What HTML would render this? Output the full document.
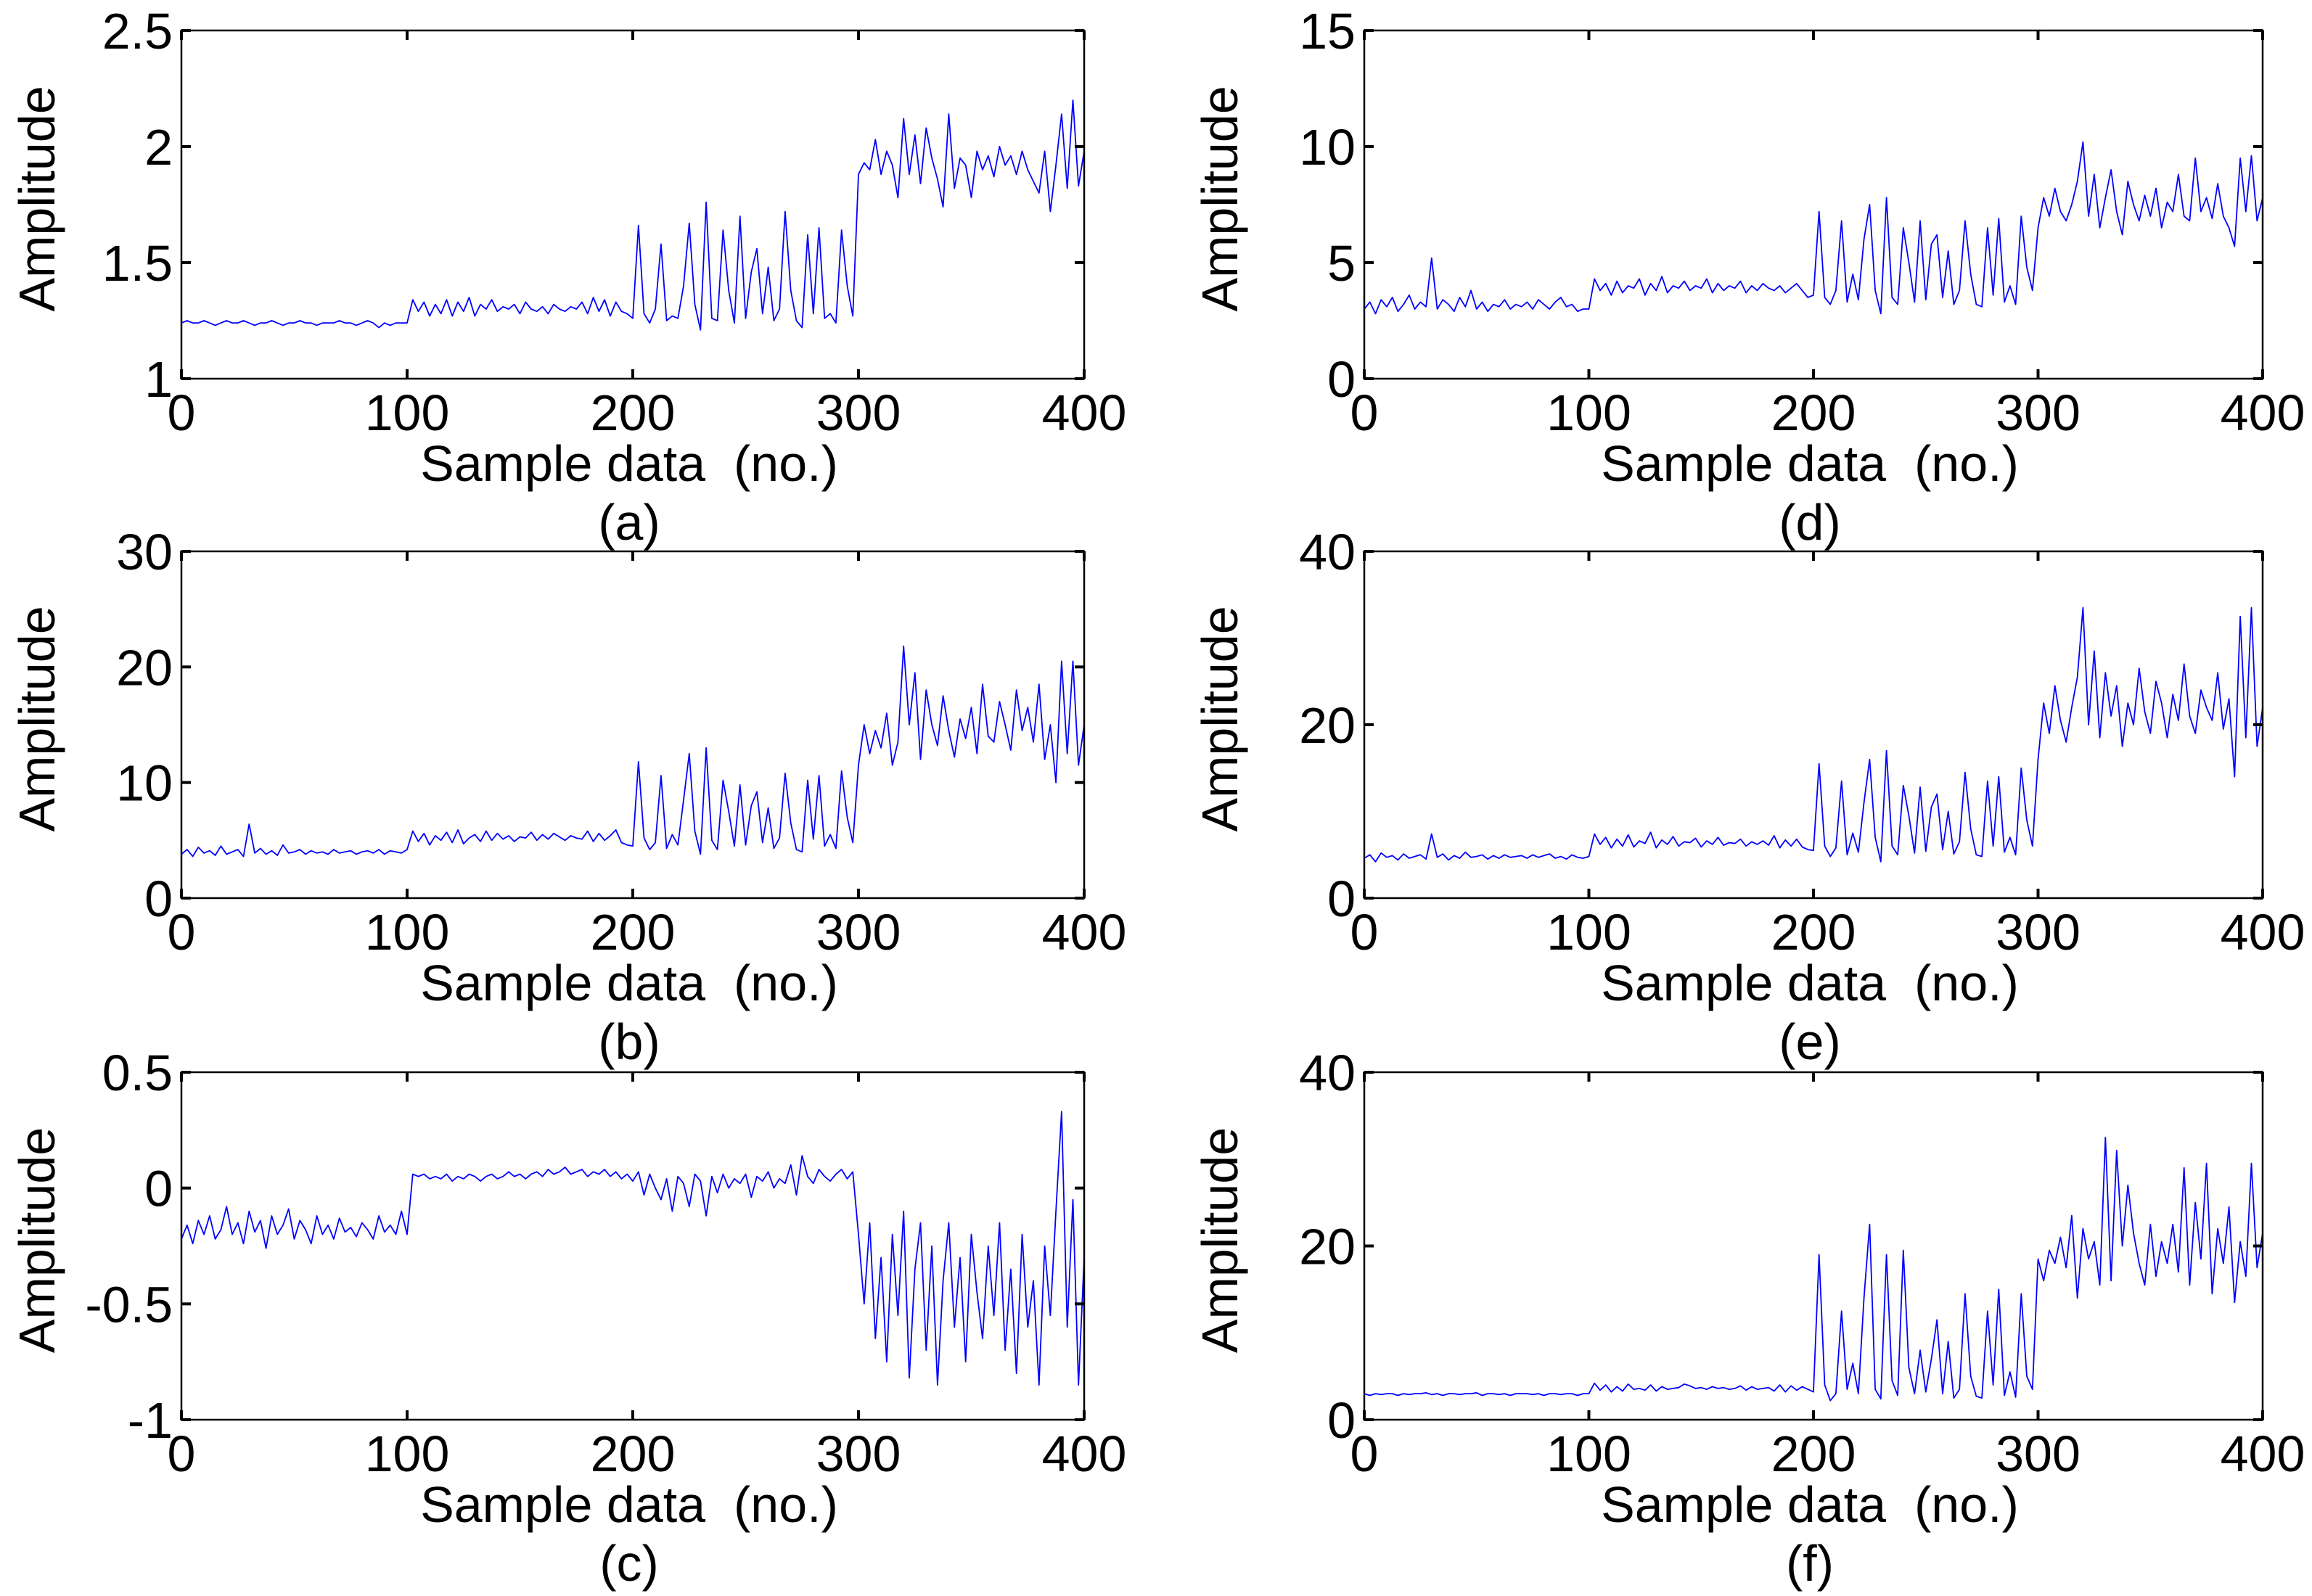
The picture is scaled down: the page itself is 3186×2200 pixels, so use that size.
<!DOCTYPE html>
<html><head><meta charset="utf-8"><style>
html,body{margin:0;padding:0;background:#fff;}
svg{display:block;}
text{font-family:"Liberation Sans",Arial,sans-serif;fill:#000;}
</style></head><body>
<svg id="fig" width="3186" height="2200" viewBox="0 0 3186 2200" xmlns="http://www.w3.org/2000/svg"></svg>
<script>
const xTicks = [0,100,200,300,400];
const aVals = [1.24,1.25,1.24,1.24,1.25,1.24,1.23,1.24,1.25,1.24,1.24,1.25,1.24,1.23,1.24,1.24,1.25,1.24,1.23,1.24,1.24,1.25,1.24,1.24,1.23,1.24,1.24,1.24,1.25,1.24,1.24,1.23,1.24,1.25,1.24,1.22,1.24,1.23,1.24,1.24,
1.24,1.34,1.29,1.33,1.27,1.32,1.28,1.34,1.27,1.33,1.29,1.35,1.27,1.32,1.30,1.34,1.29,1.31,1.30,1.32,1.28,1.33,1.30,1.29,1.31,1.28,1.32,1.30,1.29,1.31,1.30,1.33,1.28,1.35,1.29,1.34,1.27,1.33,1.29,1.28,
1.26,1.66,1.28,1.24,1.30,1.58,1.25,1.27,1.26,1.40,1.67,1.32,1.21,1.76,1.26,1.25,1.64,1.38,1.24,1.70,1.26,1.46,1.56,1.28,1.48,1.25,1.30,1.72,1.38,1.25,1.22,1.62,1.28,1.65,1.26,1.28,1.24,1.64,1.40,1.27,
1.88,1.93,1.90,2.03,1.88,1.98,1.92,1.78,2.12,1.88,2.05,1.84,2.08,1.95,1.86,1.74,2.14,1.82,1.95,1.92,1.78,1.98,1.90,1.96,1.87,2.00,1.92,1.96,1.88,1.98,1.90,1.85,1.80,1.98,1.72,1.92,2.14,1.82,2.20,1.83,1.98];
const bVals = [3.8,4.2,3.6,4.4,3.9,4.1,3.7,4.5,3.8,4.0,4.2,3.6,6.4,3.9,4.3,3.8,4.1,3.7,4.6,3.9,4.0,4.2,3.8,4.1,3.9,4.0,3.8,4.2,3.9,4.0,4.1,3.8,4.0,4.1,3.9,4.2,3.8,4.1,4.0,3.9,
4.2,5.8,4.9,5.6,4.6,5.4,5.0,5.7,4.8,5.9,4.7,5.2,5.5,4.9,5.8,5.0,5.6,5.1,5.4,4.9,5.3,5.2,5.7,5.0,5.5,5.1,5.6,5.3,5.0,5.4,5.2,5.1,5.8,4.9,5.6,5.0,5.4,5.9,4.8,4.6,
4.5,11.8,5.2,4.2,4.8,10.6,4.3,5.5,4.6,8.5,12.5,5.8,3.8,13.0,5.0,4.2,10.2,7.5,4.5,9.8,4.6,8.0,9.2,4.8,7.8,4.3,5.2,10.8,6.5,4.2,4.0,10.2,5.1,10.6,4.5,5.5,4.3,11.0,7.0,4.8,
11.5,15.0,12.5,14.5,13.0,16.0,11.5,13.5,21.8,15.0,19.5,12.0,18.0,15.0,13.2,17.5,14.5,12.2,15.5,13.8,16.5,12.5,18.5,14.0,13.5,17.0,15.0,12.8,18.0,14.5,16.5,13.5,18.5,12.0,15.0,10.0,20.5,12.5,20.5,11.5,15.0];
const cVals = [-0.22,-0.16,-0.24,-0.14,-0.20,-0.12,-0.22,-0.18,-0.08,-0.20,-0.15,-0.24,-0.10,-0.19,-0.14,-0.26,-0.12,-0.20,-0.16,-0.09,-0.22,-0.14,-0.18,-0.24,-0.12,-0.20,-0.16,-0.22,-0.13,-0.19,-0.17,-0.21,-0.15,-0.18,-0.22,-0.12,-0.19,-0.16,-0.20,-0.10,
-0.20,0.06,0.05,0.06,0.04,0.05,0.04,0.06,0.03,0.05,0.04,0.06,0.05,0.03,0.05,0.06,0.04,0.05,0.07,0.05,0.06,0.04,0.06,0.07,0.05,0.08,0.06,0.07,0.09,0.06,0.07,0.08,0.05,0.07,0.06,0.08,0.05,0.07,0.04,0.06,
0.03,0.07,-0.03,0.06,0.00,-0.05,0.04,-0.10,0.05,0.02,-0.08,0.06,0.03,-0.12,0.05,-0.02,0.06,0.00,0.04,0.02,0.06,-0.04,0.05,0.03,0.07,0.00,0.04,0.02,0.10,-0.03,0.14,0.05,0.02,0.08,0.05,0.03,0.06,0.08,0.04,0.07,
-0.20,-0.50,-0.15,-0.65,-0.30,-0.75,-0.20,-0.55,-0.10,-0.82,-0.35,-0.15,-0.70,-0.25,-0.85,-0.40,-0.15,-0.60,-0.30,-0.75,-0.20,-0.45,-0.65,-0.25,-0.55,-0.15,-0.70,-0.35,-0.80,-0.20,-0.60,-0.40,-0.85,-0.25,-0.55,-0.10,0.33,-0.60,-0.05,-0.85,-0.30];
const dVals = [3.0,3.3,2.8,3.4,3.1,3.5,2.9,3.2,3.6,3.0,3.3,3.1,5.2,3.0,3.4,3.2,2.9,3.5,3.1,3.8,3.0,3.3,2.9,3.2,3.1,3.4,3.0,3.2,3.1,3.3,3.0,3.4,3.2,3.0,3.3,3.5,3.1,3.2,2.9,3.0,
3.0,4.3,3.8,4.1,3.6,4.2,3.7,4.0,3.9,4.3,3.6,4.1,3.8,4.4,3.7,4.0,3.9,4.2,3.8,4.0,3.9,4.3,3.7,4.1,3.8,4.0,3.9,4.2,3.7,4.0,3.8,4.1,3.9,3.8,4.0,3.7,3.9,4.1,3.8,3.5,
3.6,7.2,3.5,3.2,3.8,6.8,3.3,4.5,3.4,6.0,7.5,3.8,2.8,7.8,3.5,3.2,6.5,5.0,3.3,6.8,3.4,5.8,6.2,3.5,5.5,3.2,3.8,6.8,4.5,3.2,3.1,6.5,3.6,6.9,3.3,4.0,3.2,7.0,4.8,3.8,
6.5,7.8,7.0,8.2,7.2,6.8,7.5,8.5,10.2,7.0,8.8,6.5,7.8,9.0,7.2,6.2,8.5,7.5,6.8,7.9,7.0,8.2,6.5,7.6,7.2,8.8,7.0,6.8,9.5,7.2,7.8,6.9,8.4,7.0,6.5,5.7,9.5,7.2,9.6,6.8,7.8];
const eVals = [4.6,5.0,4.2,5.2,4.7,4.9,4.4,5.1,4.6,4.8,5.0,4.5,7.4,4.7,5.1,4.4,4.9,4.6,5.3,4.7,4.8,5.0,4.5,4.9,4.6,5.0,4.7,4.8,4.9,4.6,5.0,4.7,4.9,5.1,4.6,4.8,4.5,5.0,4.7,4.6,
4.8,7.4,6.2,7.0,5.8,6.8,6.0,7.3,5.9,6.6,6.3,7.6,5.8,6.7,6.2,7.1,6.0,6.5,6.4,6.9,5.9,6.6,6.2,7.0,6.1,6.4,6.3,6.8,6.0,6.5,6.2,6.6,6.1,7.2,5.8,6.7,6.0,6.8,5.9,5.6,
5.5,15.5,6.0,4.8,5.8,13.5,5.0,7.5,5.3,11.0,16.0,7.0,4.2,17.0,6.0,5.0,13.0,9.5,5.2,12.8,5.4,10.5,12.0,5.6,10.0,5.1,6.5,14.5,8.0,5.0,4.8,13.5,6.0,14.0,5.3,7.0,5.0,15.0,9.0,6.0,
16.0,22.5,19.0,24.5,20.5,18.0,22.0,25.5,33.5,20.0,28.5,18.5,26.0,21.0,24.5,17.5,22.5,20.0,26.5,21.5,19.0,25.0,22.5,18.5,23.5,20.5,27.0,21.0,19.0,24.0,22.0,20.5,26.0,19.5,23.0,14.0,32.5,18.5,33.5,17.5,22.0];
const fVals = [3.0,2.8,3.0,2.9,3.0,3.0,2.8,3.0,2.9,3.0,3.0,3.1,2.9,3.0,2.8,3.0,3.0,2.9,3.0,3.0,3.1,2.8,3.0,3.0,2.9,3.0,2.8,3.0,3.0,3.0,2.9,3.0,2.8,3.0,3.0,2.9,3.0,3.0,2.8,3.0,
3.0,4.2,3.4,4.0,3.2,3.8,3.3,4.1,3.5,3.6,3.4,4.0,3.3,3.8,3.5,3.6,3.7,4.1,3.9,3.6,3.7,3.5,3.8,3.6,3.7,3.5,3.6,3.9,3.4,3.8,3.5,3.6,3.7,3.3,4.0,3.2,3.9,3.4,3.8,3.5,
3.2,19.0,4.0,2.2,3.0,12.5,3.5,6.5,3.0,14.0,22.5,3.5,2.4,19.0,4.5,2.8,19.5,6.0,3.0,8.0,3.2,7.0,11.5,3.0,9.0,2.5,3.5,14.5,5.0,2.7,2.5,12.5,4.0,15.0,2.8,5.5,2.6,14.5,5.0,3.5,
18.5,16.0,19.5,18.0,21.0,17.5,23.5,14.0,22.0,18.5,20.5,15.5,32.5,16.0,31.0,20.0,27.0,21.5,18.0,15.5,22.5,16.5,20.5,18.0,22.5,17.0,29.0,15.5,25.0,18.5,29.5,14.5,22.0,18.0,24.5,13.5,20.5,16.5,29.5,17.5,21.5];
const aTicks = [1,1.5,2,2.5];
const bTicks = [0,10,20,30];
const cTicks = [-1,-0.5,0,0.5];
const dTicks = [0,5,10,15];
const eTicks = [0,20,40];
const fTicks = [0,20,40];

const NS = "http://www.w3.org/2000/svg";
const svg = document.getElementById('fig');
function mk(tag, attrs, parent){
  const e = document.createElementNS(NS, tag);
  for (const k in attrs) e.setAttribute(k, attrs[k]);
  parent.appendChild(e);
  return e;
}
const FS = 70;
function panel(key, vals, yTicks, left, top, right, bottom){
  const g = mk('g', {}, svg);
  
  
  const ymin = yTicks[0], ymax = yTicks[yTicks.length-1];
  const xs = v => left + (v - 0) / 400 * (right - left);
  const ys = v => bottom - (v - ymin) / (ymax - ymin) * (bottom - top);
  const n = vals.length;
  let d = '';
  vals.forEach((v,i) => { const xv = i * 400 / (n - 1); d += (i ? 'L' : 'M') + xs(xv).toFixed(1) + ' ' + ys(v).toFixed(1); });
  const line = mk('path', {d: d, fill: 'none', stroke: '#0000ff', 'stroke-width': 1.8, 'stroke-linejoin': 'round'}, g);
  
  
  const box = mk('rect', {x: left, y: top, width: right-left, height: bottom-top, fill: 'none', stroke: '#000', 'stroke-width': 2.5}, g);
  
  
  const TL = 13;
  xTicks.forEach(t => {
    const x = xs(t);
    mk('line', {x1: x, y1: bottom, x2: x, y2: bottom - TL, stroke: '#000', 'stroke-width': 4}, g);
    mk('line', {x1: x, y1: top, x2: x, y2: top + TL, stroke: '#000', 'stroke-width': 4}, g);
    const tx = mk('text', {x: x, y: bottom + 71, 'text-anchor': 'middle', 'font-size': FS}, g);
    tx.textContent = String(t);
    
    
  });
  yTicks.forEach(t => {
    const y = ys(t);
    mk('line', {x1: left, y1: y, x2: left + TL, y2: y, stroke: '#000', 'stroke-width': 4}, g);
    mk('line', {x1: right, y1: y, x2: right - TL, y2: y, stroke: '#000', 'stroke-width': 4}, g);
    const ty = mk('text', {x: left - 12, y: y + 25, 'text-anchor': 'end', 'font-size': FS}, g);
    ty.textContent = String(t);
    
    
  });
  const cx = (left + right) / 2;
  const xl = mk('text', {x: cx - 5, y: bottom + 141, 'text-anchor': 'middle', 'font-size': FS}, g);
  xl.textContent = 'Sample data\u00a0\u00a0(no.)';
  
  
  const yl = mk('text', {x: 0, y: 0, 'text-anchor': 'middle', 'font-size': FS, transform: 'translate(' + (left - 175) + ',' + ((top + bottom) / 2 - 8) + ') rotate(-90)'}, g);
  yl.textContent = 'Amplitude';
  
  
  const cap = mk('text', {x: cx - 5, y: bottom + 222, 'text-anchor': 'middle', 'font-size': FS}, g);
  cap.textContent = '(' + key + ')';
  
  
}
const L1 = 250, R1 = 1494, L2 = 1880, R2 = 3118;
const rows = [[42, 522], [760, 1238], [1478, 1957]];
panel('a', aVals, aTicks, L1, rows[0][0], R1, rows[0][1]);
panel('b', bVals, bTicks, L1, rows[1][0], R1, rows[1][1]);
panel('c', cVals, cTicks, L1, rows[2][0], R1, rows[2][1]);
panel('d', dVals, dTicks, L2, rows[0][0], R2, rows[0][1]);
panel('e', eVals, eTicks, L2, rows[1][0], R2, rows[1][1]);
panel('f', fVals, fTicks, L2, rows[2][0], R2, rows[2][1]);
</script>
</body></html>
